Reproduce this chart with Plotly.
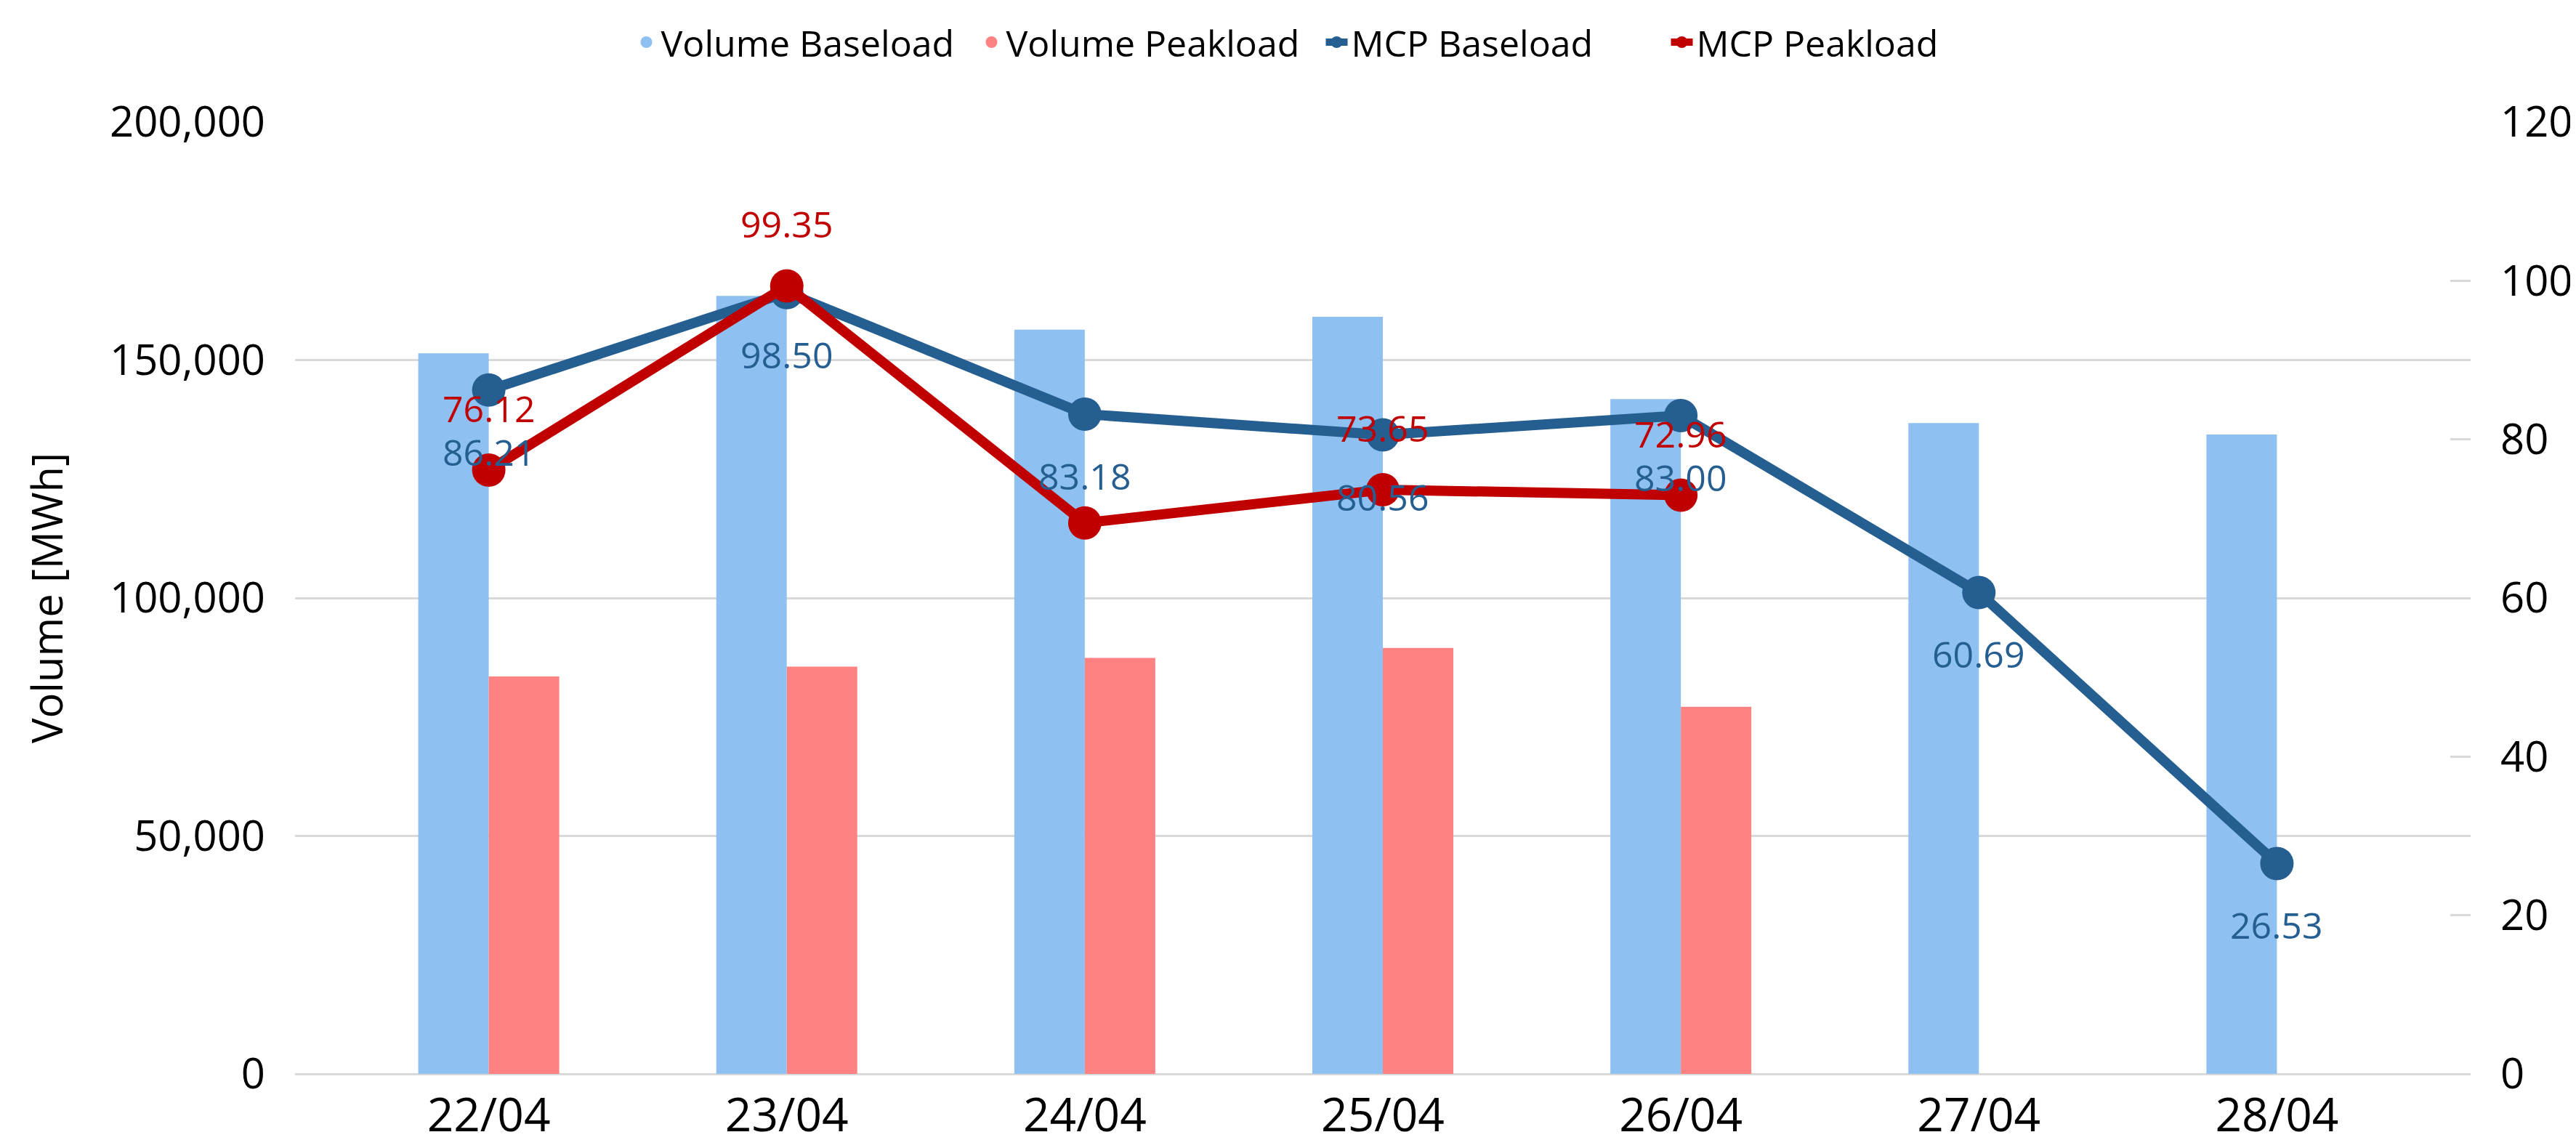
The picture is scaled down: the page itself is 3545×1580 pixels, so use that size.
import plotly.graph_objects as go

dates = ["22/04", "23/04", "24/04", "25/04", "26/04", "27/04", "28/04"]
vol_base = [151400, 163470, 156380, 159090, 141780, 136760, 134340]
vol_peak = [83520, 85590, 87400, 89510, 77130, None, None]
mcp_base = [86.21, 98.50, 83.18, 80.56, 83.00, 60.69, 26.53]
mcp_peak = [76.12, 99.35, 69.46, 73.65, 72.96, None, None]
peak_label_shown = [True, True, False, True, True, False, False]

C_VB = "#8EC1F2"
C_VP = "#FF8282"
C_MB = "#255E91"
C_MP = "#C00000"
FONT = "Open Sans"
GRID = "#D9D9D9"

fig = go.Figure()
fig.add_trace(go.Bar(x=dates, y=vol_base, marker=dict(color=C_VB, line=dict(width=0)),
                     name="Volume Baseload", showlegend=False, yaxis="y"))
fig.add_trace(go.Bar(x=dates, y=vol_peak, marker=dict(color=C_VP, line=dict(width=0)),
                     name="Volume Peakload", showlegend=False, yaxis="y"))
# legend entries (circle symbols like the original)
fig.add_trace(go.Scatter(x=[None], y=[None], mode="markers", name="Volume Baseload",
                         marker=dict(color=C_VB, size=16, symbol="circle")))
fig.add_trace(go.Scatter(x=[None], y=[None], mode="markers", name="Volume Peakload",
                         marker=dict(color=C_VP, size=16, symbol="circle")))
fig.add_trace(go.Scatter(x=dates, y=mcp_base, mode="lines+markers", name="MCP Baseload",
                         line=dict(color=C_MB, width=14), marker=dict(color=C_MB, size=46),
                         yaxis="y2"))
fig.add_trace(go.Scatter(x=dates, y=mcp_peak, mode="lines+markers", name="MCP Peakload",
                         line=dict(color=C_MP, width=14), marker=dict(color=C_MP, size=46),
                         yaxis="y2"))

ann = []
for d, v in zip(dates, mcp_base):
    ann.append(dict(x=d, y=v, xref="x", yref="y2", text=f"{v:.2f}", showarrow=False,
                    yshift=-85, font=dict(family=FONT, size=50, color=C_MB)))
for d, v, s in zip(dates, mcp_peak, peak_label_shown):
    if v is not None and s:
        ann.append(dict(x=d, y=v, xref="x", yref="y2", text=f"{v:.2f}", showarrow=False,
                        yshift=85, font=dict(family=FONT, size=50, color=C_MP)))

fig.update_layout(
    width=3545, height=1580,
    margin=dict(l=398, r=148, t=160, b=95),
    paper_bgcolor="white", plot_bgcolor="white",
    font=dict(family=FONT, color="#000000"),
    barmode="group", bargap=0.527, bargroupgap=0,
    xaxis=dict(type="category", range=[-0.65, 6.65], showgrid=False, showline=False,
               ticks="", tickfont=dict(size=64, color="#000000"), ticklabelstandoff=14),
    yaxis=dict(range=[0, 200000], dtick=50000, tickformat=",", showgrid=True,
               gridcolor=GRID, gridwidth=3, zeroline=True, zerolinecolor=GRID, zerolinewidth=3,
               showline=False, ticks="", tickfont=dict(size=58, color="#000000"),
               ticklabelstandoff=40,
               title=dict(text="Volume [MWh]", font=dict(size=58, color="#000000"), standoff=45)),
    yaxis2=dict(range=[0, 120], dtick=20, overlaying="y", side="right", showgrid=False,
                zeroline=False, showline=False, ticks="inside", ticklen=28, tickwidth=3,
                tickcolor=GRID, tickfont=dict(size=58, color="#000000"), ticklabelstandoff=40),
    legend=dict(orientation="h", x=0.511, xanchor="center", xref="container",
                y=1 - 50 / 1580, yanchor="middle", yref="container",
                font=dict(size=50, color="#000000"), itemwidth=30, traceorder="normal",
                entrywidth=430, entrywidthmode="pixels"),
    annotations=ann,
)

fig.write_html("out.html")
